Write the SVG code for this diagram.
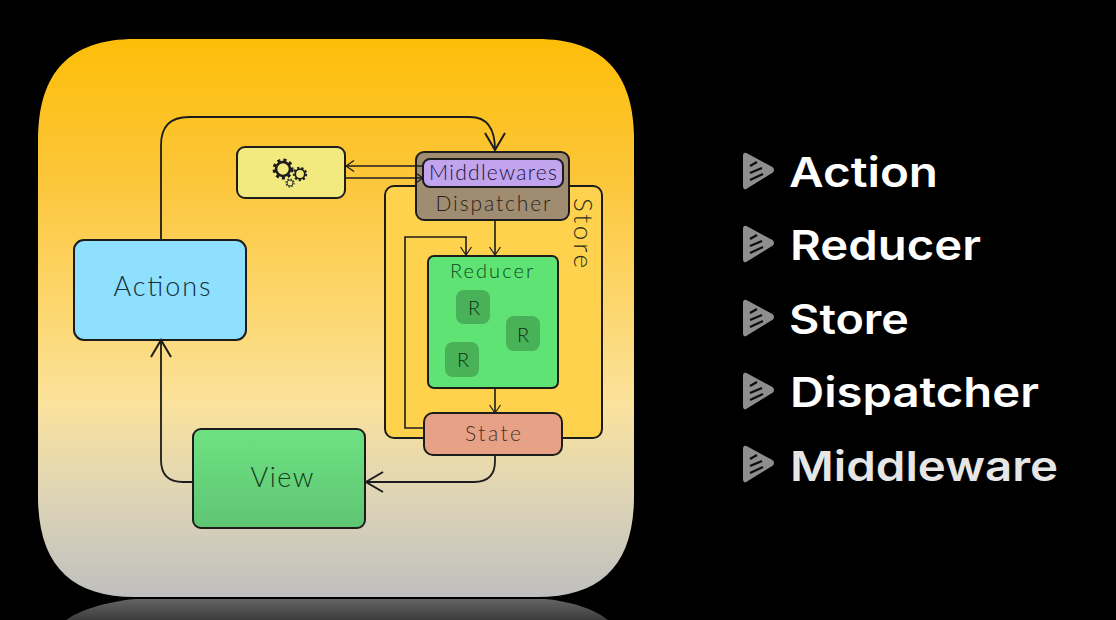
<svg xmlns="http://www.w3.org/2000/svg" width="1116" height="620" viewBox="0 0 1116 620">
<style>
.box{stroke:#1c1c1c;stroke-width:2}
.c{fill:none;stroke:#1c1c1c;stroke-width:1.6}
.big{fill:none;stroke:#1c1c1c;stroke-width:1.8}
.t{font-family:"Lato","Open Sans",sans-serif;font-weight:300;text-anchor:middle;fill:#2c2c1c}
.li{font-family:"Inter","Open Sans",sans-serif;font-weight:600;font-size:41px;fill:#fff}
.r{fill:#49b158}
.g{fill:none;stroke:#1c1c1c}
</style>
<defs>
<linearGradient id="bg" x1="0" y1="39" x2="0" y2="597" gradientUnits="userSpaceOnUse">
<stop offset="0" stop-color="#fdbe08"/><stop offset=".25" stop-color="#fcc63a"/><stop offset=".5" stop-color="#fcd873"/><stop offset=".65" stop-color="#fbe29c"/><stop offset=".82" stop-color="#ded5b6"/><stop offset="1" stop-color="#bfbfbf"/>
</linearGradient>
<linearGradient id="refl" x1="0" y1="598" x2="0" y2="620" gradientUnits="userSpaceOnUse">
<stop offset="0" stop-color="#666"/><stop offset="1" stop-color="#3c3c3c"/>
</linearGradient>
<linearGradient id="vw" x1="0" y1="429" x2="0" y2="528" gradientUnits="userSpaceOnUse">
<stop offset="0" stop-color="#6ee283"/><stop offset="1" stop-color="#5fc573"/>
</linearGradient>
<marker id="a" markerUnits="userSpaceOnUse" markerWidth="14" markerHeight="14" refX="11" refY="7" orient="auto"><path d="M3 1.5 L11 7 L3 12.500" fill="none" stroke="#1c1c1c" stroke-width="1.200"/></marker>
<marker id="b" markerUnits="userSpaceOnUse" markerWidth="26" markerHeight="26" refX="22" refY="13" orient="auto"><path d="M5 3 L22 13 L5 23" fill="none" stroke="#1c1c1c" stroke-width="2"/></marker>
<g id="tri"><path d="M3 2 L29 16 Q31 18 29 20 L3 36 Q1 37 1 34 V4 Q1 1 3 2Z" fill="#8e8e8e" stroke="#8e8e8e" stroke-width="2" stroke-linejoin="round"/><path d="M7 14 L14 10 M7 21 L19 16 M7 28 L20 22" stroke="#0c0c0c" stroke-width="2.200" fill="none"/></g>
</defs>
<rect width="1116" height="620" fill="#000"/>
<path d="M135 599 H545 C575 602 595 610 608 620 H66 C80 610 105 602 135 599Z" fill="url(#refl)"/>
<path id="panel" d="M135 39 H537 C602 39 634 72 634 140 V496 C634 564 602 597 537 597 H135 C70 597 38 564 38 496 V140 C38 72 70 39 135 39Z" fill="url(#bg)"/>

<g id="store"><rect class="box" x="385" y="186" width="217" height="252" rx="9" fill="#fed24c"/><text class="t" font-size="26" textLength="70" lengthAdjust="spacing" style="text-anchor:start" transform="translate(574 198) rotate(90)">Store</text></g>

<g id="gears"><rect class="box" x="237" y="147" width="108" height="51" rx="8" fill="#f3ea7f"/>
<circle class="g" cx="283" cy="169" r="7" stroke-width="2.600"/><circle class="g" cx="283" cy="169" r="9" stroke-width="3" stroke-dasharray="3.070 3"/>
<circle class="g" cx="300" cy="174" r="4.800" stroke-width="1.800"/><circle class="g" cx="300" cy="174" r="6.200" stroke-width="2" stroke-dasharray="2.200 2.070"/>
<circle class="g" cx="290" cy="183" r="3" stroke-width="1" style="stroke:#333"/><circle class="g" cx="290" cy="183" r="4" stroke-width="1.300" stroke-dasharray="1.500 1.640" style="stroke:#333"/>
</g>

<g id="dispatcher"><rect class="box" x="416" y="152" width="153" height="68" rx="8" fill="#a08c70"/><text class="t" x="493" y="211" font-size="21" textLength="115" style="fill:#26231a">Dispatcher</text></g>
<g id="middlewares"><rect class="box" x="423" y="159" width="140" height="28" rx="7" fill="#c2a4ee"/><text class="t" x="493" y="180" font-size="21" textLength="128" style="fill:#1c1238">Middlewares</text></g>

<g id="reducer"><rect class="box" x="428" y="256" width="130" height="132" rx="6" fill="#5fe374"/><text class="t" x="491.500" y="278" font-size="20" textLength="83" style="fill:#0e4a1e">Reducer</text>
<rect class="r" x="456" y="290" width="34" height="34" rx="8"/><text class="t" x="474" y="315" font-size="20" style="fill:#0f2f17">R</text>
<rect class="r" x="506" y="316" width="34" height="35" rx="8"/><text class="t" x="523" y="342" font-size="20" style="fill:#0f2f17">R</text>
<rect class="r" x="445" y="342" width="34" height="35" rx="8"/><text class="t" x="463" y="367" font-size="20" style="fill:#0f2f17">R</text>
</g>
<g id="state"><rect class="box" x="424" y="413" width="138" height="42" rx="9" fill="#e6a187"/><text class="t" x="493" y="441" font-size="21" textLength="56" style="fill:#4a3228">State</text></g>
<g id="actions"><rect class="box" x="74" y="240" width="172" height="100" rx="10" fill="#8fdfff"/><text class="t" x="162" y="296" font-size="27" textLength="97" style="fill:#16303a">Actions</text></g>
<g id="view"><rect class="box" x="193" y="429" width="172" height="99" rx="8" fill="url(#vw)"/><text class="t" x="282" y="487" font-size="27" textLength="63" style="fill:#123a1e">View</text></g>

<g id="connectors">
<path class="big" d="M161 240 V145 Q161 117 189 117 H470 Q495 117 495 150" marker-end="url(#b)"/>
<path class="big" d="M193 482 H183 Q161 482 161 460 V340" marker-end="url(#b)"/>
<path class="big" d="M495 455 V461 Q495 482 474 482 H366" marker-end="url(#b)"/>
<path class="c" d="M423 166 H346" marker-end="url(#a)"/>
<path class="c" d="M346 178 H423" marker-end="url(#a)"/>
<path class="c" d="M495 220 V255" marker-end="url(#a)"/>
<path class="c" d="M495 388 V413" marker-end="url(#a)"/>
<path class="c" d="M424 428 H405 V237 H466 V255" marker-end="url(#a)"/>
</g>

<use href="#tri" x="743" y="152"/><text class="li" x="789" y="187" textLength="149" lengthAdjust="spacingAndGlyphs">Action</text>
<use href="#tri" x="743" y="225"/><text class="li" x="790" y="260" textLength="191" lengthAdjust="spacingAndGlyphs">Reducer</text>
<use href="#tri" x="743" y="299"/><text class="li" x="789" y="334" textLength="120" lengthAdjust="spacingAndGlyphs">Store</text>
<use href="#tri" x="743" y="372"/><text class="li" x="790" y="407" textLength="249" lengthAdjust="spacingAndGlyphs">Dispatcher</text>
<use href="#tri" x="743" y="445"/><text class="li" x="790" y="481" textLength="268" lengthAdjust="spacingAndGlyphs" style="fill:#e6e6e6">Middleware</text>
</svg>
